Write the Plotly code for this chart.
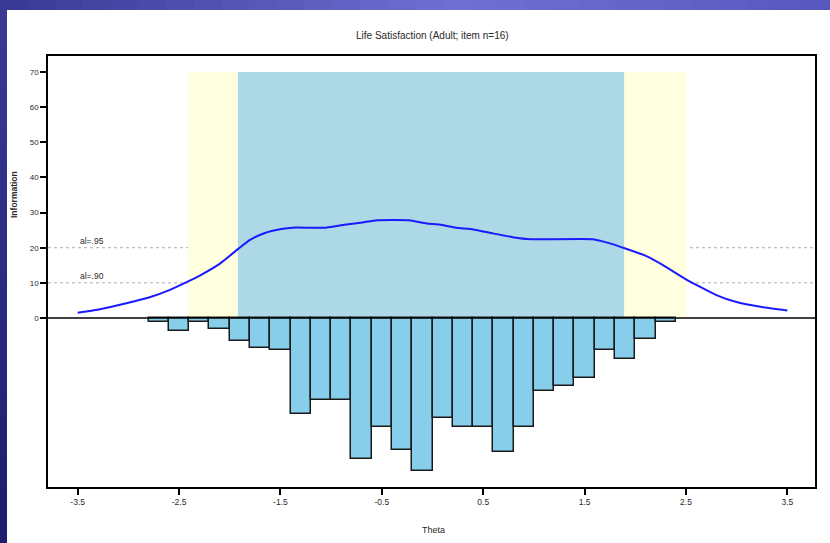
import plotly.graph_objects as go

# ---- data ----
theta_curve = [-3.5, -3.28, -3.02, -2.79, -2.59, -2.41, -2.30, -2.10, -1.91, -1.80, -1.66, -1.49,
               -1.38, -1.05, -0.85, -0.69, -0.55, -0.23, -0.06, 0.07, 0.23, 0.40, 0.59, 0.79,
               0.97, 1.58, 1.74, 1.91, 2.11, 2.27, 2.50, 2.80, 2.99, 3.25, 3.50]
info_curve = [1.5, 2.5, 4.2, 5.9, 8.0, 10.4, 12.0, 15.4, 19.8, 22.2, 24.1, 25.3,
              25.7, 25.7, 26.6, 27.2, 27.8, 27.8, 26.9, 26.6, 25.7, 25.2, 24.1, 23.0,
              22.4, 22.4, 21.3, 19.7, 17.6, 15.1, 11.0, 6.5, 4.6, 3.1, 2.1]

hist_mid = [-2.7, -2.5, -2.3, -2.1, -1.9, -1.7, -1.5, -1.3, -1.1, -0.9, -0.7, -0.5, -0.3,
            -0.1, 0.1, 0.3, 0.5, 0.7, 0.9, 1.1, 1.3, 1.5, 1.7, 1.9, 2.1, 2.3]
hist_height = [1.2, 3.8, 1.2, 3.2, 6.5, 8.6, 9.1, 27.4, 23.4, 23.4, 40.2, 31.0, 37.6,
               43.5, 28.4, 31.0, 31.0, 38.0, 31.0, 20.7, 19.4, 17.2, 9.1, 11.8, 6.1, 1.1]

band90 = [-2.41, 2.51]   # info >= 10
band95 = [-1.92, 1.89]   # info >= 20
ref_levels = [10, 20]
ref_labels = ["al=.90", "al=.95"]

x_tickvals = [-3.5, -2.5, -1.5, -0.5, 0.5, 1.5, 2.5, 3.5]
x_ticktext = ["-3.5", "-2.5", "-1.5", "-0.5", "0.5", "1.5", "2.5", "3.5"]
y_tickvals = [0, 10, 20, 30, 40, 50, 60, 70]

title_text = "Life Satisfaction (Adult; item n=16)"
x_title = "Theta"
y_title = "Information"

# ---- figure geometry (pixels) ----
W, H = 830, 543
L, R, T, B = 48, 815, 56, 487
FONT = "Liberation Sans"
TXT = "#2a2a2a"


def px(xp):
    return (xp - L) / (R - L)


def py(yp):
    return (B - yp) / (B - T)


fig = go.Figure()

fig.add_trace(go.Bar(
    x=hist_mid, y=[-h for h in hist_height], width=0.2,
    marker=dict(color="#87CEEB", line=dict(color="#1a1a1a", width=1.5)),
    showlegend=False, hoverinfo="skip"))

fig.add_trace(go.Scatter(
    x=theta_curve, y=info_curve, mode="lines",
    line=dict(color="#1a1aff", width=2, shape="spline", smoothing=0.4),
    showlegend=False))

shapes = []
# reliability bands
shapes.append(dict(type="rect", xref="x", yref="y", x0=band90[0], x1=band90[1], y0=0, y1=70,
                   fillcolor="#FFFFE0", line=dict(width=0), layer="below"))
shapes.append(dict(type="rect", xref="x", yref="y", x0=band95[0], x1=band95[1], y0=0, y1=70,
                   fillcolor="#ADD8E6", line=dict(width=0), layer="below"))
for lv in ref_levels:
    shapes.append(dict(type="line", xref="paper", yref="y", x0=0, x1=1, y0=lv, y1=lv,
                       line=dict(color="#b0b0b0", width=1, dash="dot"), layer="below"))
shapes.append(dict(type="line", xref="paper", yref="y", x0=0, x1=1, y0=0, y1=0,
                   line=dict(color="black", width=1.5)))

# slide frame (gradient strips)
n = 30
for i in range(n):
    t = i / (n - 1)
    if t < 0.55:
        k = t / 0.55
        c0, c1 = (58, 58, 150), (112, 112, 212)
    else:
        k = (t - 0.55) / 0.45
        c0, c1 = (112, 112, 212), (88, 88, 190)
    col = tuple(int(c0[j] + (c1[j] - c0[j]) * k) for j in range(3))
    shapes.append(dict(type="rect", xref="paper", yref="paper",
                       x0=px(W * i / n), x1=px(W * (i + 1) / n + 1), y0=py(10), y1=py(0),
                       fillcolor="rgb(%d,%d,%d)" % col, line=dict(width=0), layer="above"))
for i in range(n):
    t = i / (n - 1)
    c0, c1 = (58, 58, 150), (30, 30, 110)
    col = tuple(int(c0[j] + (c1[j] - c0[j]) * t) for j in range(3))
    shapes.append(dict(type="rect", xref="paper", yref="paper",
                       x0=px(0), x1=px(7), y0=py(H * (i + 1) / n + 1), y1=py(H * i / n),
                       fillcolor="rgb(%d,%d,%d)" % col, line=dict(width=0), layer="above"))

annotations = []
for lv, lab in zip(ref_levels, ref_labels):
    annotations.append(dict(x=-3.5, y=lv, xref="x", yref="y", text=lab, showarrow=False,
                            xanchor="left", yanchor="bottom", yshift=0,
                            font=dict(size=8.5, color=TXT, family=FONT)))
annotations.append(dict(x=px(432), y=py(35), xref="paper", yref="paper", text=title_text,
                        showarrow=False, xanchor="center", yanchor="middle",
                        font=dict(size=10, color=TXT, family=FONT)))
annotations.append(dict(x=px(433), y=py(530), xref="paper", yref="paper", text=x_title,
                        showarrow=False, xanchor="center", yanchor="middle",
                        font=dict(size=9, color=TXT, family=FONT)))
annotations.append(dict(x=px(14), y=py(195), xref="paper", yref="paper", text="<b>" + y_title + "</b>",
                        showarrow=False, xanchor="center", yanchor="middle", textangle=-90,
                        font=dict(size=8.5, color=TXT, family=FONT)))

fig.update_layout(
    width=W, height=H,
    margin=dict(l=L, r=W - R, t=T, b=H - B, pad=0),
    paper_bgcolor="white", plot_bgcolor="white",
    shapes=shapes, annotations=annotations,
    bargap=0,
    xaxis=dict(range=[-3.793, 3.773], tickvals=x_tickvals, ticktext=x_ticktext,
               ticks="outside", ticklen=6, tickwidth=1.5, tickcolor="black",
               showline=True, linecolor="black", linewidth=1.5, mirror=True,
               showgrid=False, zeroline=False,
               tickfont=dict(size=8.5, color=TXT, family=FONT)),
    yaxis=dict(range=[-48.1, 74.55], tickvals=y_tickvals,
               ticks="outside", ticklen=6, tickwidth=1.5, tickcolor="black",
               showline=True, linecolor="black", linewidth=1.5, mirror=True,
               showgrid=False, zeroline=False,
               tickfont=dict(size=8, color=TXT, family=FONT)),
)

fig.write_html("out.html", config={"displayModeBar": False},
               post_script="document.body.style.margin='0px';document.body.style.overflow='hidden';")
